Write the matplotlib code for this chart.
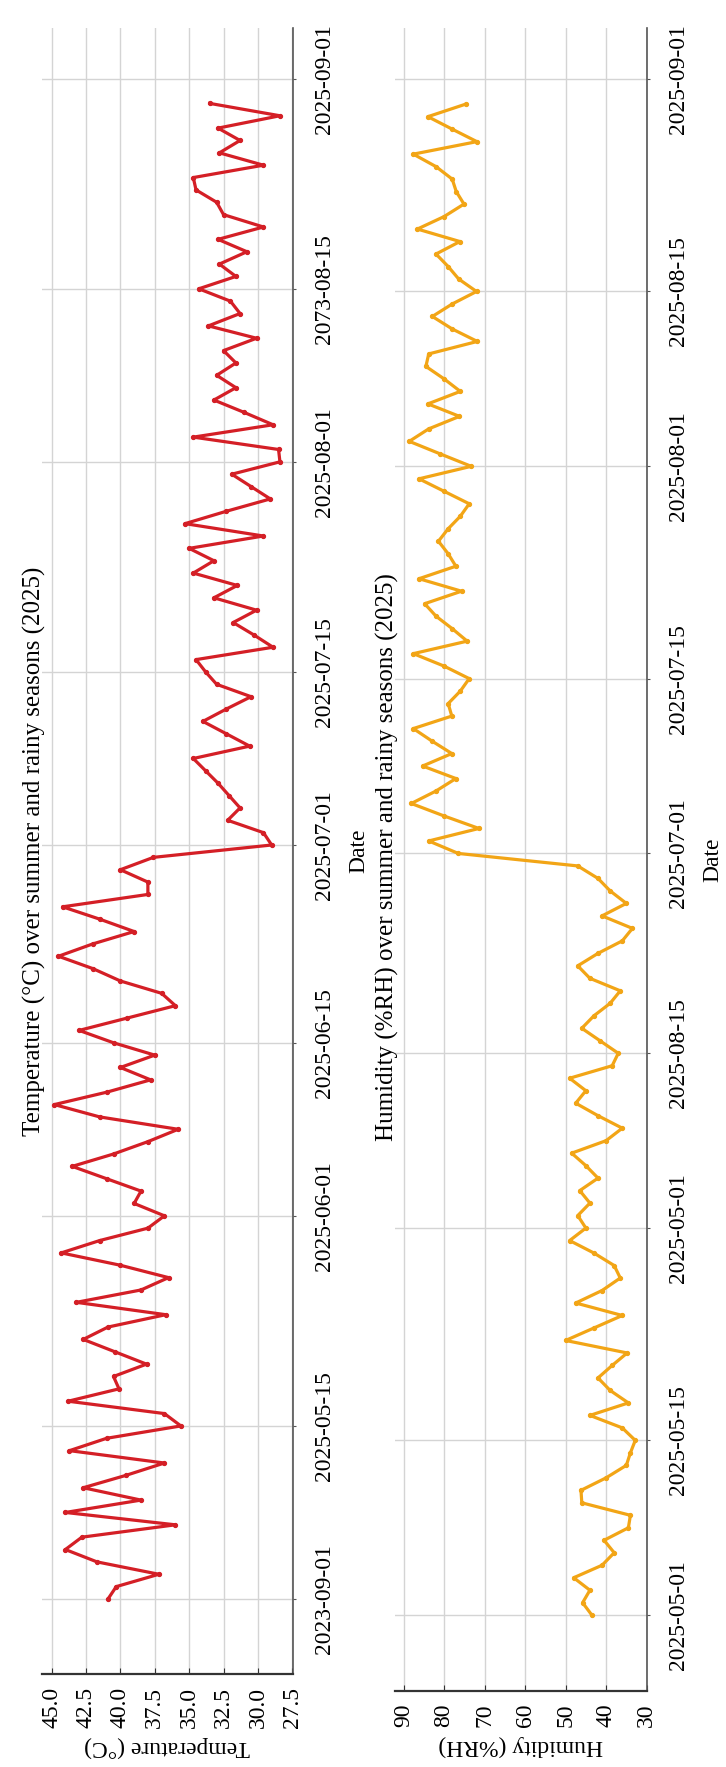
import numpy as np
import pandas as pd
import matplotlib
matplotlib.use('Agg')
import matplotlib.pyplot as plt
import matplotlib.dates as mdates

plt.rcParams['font.family'] = ['Liberation Serif', 'DejaVu Serif']

# daily readings, 2025-05-01 .. 2025-08-30
temp_may = [40.9, 40.3, 37.2, 41.7, 44.0, 42.8, 36.0, 44.0, 38.5, 42.7, 39.6, 36.8, 43.7, 41.0, 35.6, 36.8,
            43.8, 40.1, 40.5, 38.1, 40.4, 42.7, 40.9, 36.7, 43.2, 38.5, 36.5, 40.0, 44.3, 41.5, 38.0]
temp_jun = [36.8, 39.0, 38.5, 41.0, 43.5, 40.5, 38.0, 35.8, 41.5, 44.8, 41.0, 37.8, 40.0, 37.5, 40.5,
            43.0, 39.5, 36.0, 37.0, 40.0, 42.0, 44.5, 42.0, 39.0, 41.5, 44.2, 38.0, 38.0, 40.0, 37.6]
temp_jul = [29.0, 29.6, 32.2, 31.3, 32.1, 32.9, 33.8, 34.7, 30.6, 32.3, 34.0, 32.3, 30.5, 33.0, 33.8, 34.5,
            28.9, 30.3, 31.8, 30.1, 33.2, 31.5, 34.7, 33.2, 35.0, 29.6, 35.3, 32.3, 29.1, 30.5, 31.9]
temp_aug = [28.4, 28.5, 34.7, 28.9, 31.0, 33.2, 31.6, 33.0, 31.6, 32.5, 30.1, 33.6, 31.3, 32.0, 34.3,
            31.6, 32.8, 30.8, 32.9, 29.6, 32.5, 33.0, 34.5, 34.7, 29.6, 32.8, 31.3, 32.9, 28.4, 33.5]

hum_may = [43.5, 45.8, 44.0, 48.0, 41.0, 38.0, 40.5, 34.5, 34.0, 46.0, 46.2, 40.0, 35.0, 34.0, 32.8, 36.0,
           44.0, 34.5, 39.0, 42.0, 38.5, 34.8, 50.0, 43.0, 36.0, 47.5, 41.0, 36.5, 38.0, 43.0, 49.0]
hum_jun = [45.0, 47.0, 44.0, 46.5, 42.0, 45.0, 48.5, 40.0, 36.0, 42.0, 47.5, 45.0, 49.0, 38.5, 37.0,
           41.5, 46.0, 43.0, 39.0, 36.5, 44.0, 47.0, 42.0, 36.0, 33.5, 41.0, 35.0, 39.0, 42.0, 47.0]
hum_jul = [76.5, 83.8, 71.4, 80.0, 88.1, 82.0, 77.1, 85.3, 78.1, 83.0, 87.6, 78.1, 79.0, 76.0, 73.8, 80.0,
           87.6, 74.3, 78.0, 82.0, 84.8, 75.7, 86.2, 77.1, 79.0, 81.4, 79.0, 76.0, 73.8, 80.0, 86.2]
hum_aug = [73.3, 81.0, 88.6, 83.8, 76.2, 84.0, 76.0, 80.0, 84.5, 83.8, 71.8, 78.0, 82.9, 78.0, 72.0,
           76.4, 79.0, 82.0, 76.1, 86.6, 80.0, 75.1, 77.0, 78.0, 82.0, 87.6, 71.9, 78.0, 84.0, 74.7]

dates = pd.date_range('2025-05-01', '2025-08-30', freq='D')
temps = np.array(temp_may + temp_jun + temp_jul + temp_aug)
hums = np.array(hum_may + hum_jun + hum_jul + hum_aug)

tick_dates = ['2025-05-01', '2025-05-15', '2025-06-01', '2025-06-15', '2025-07-01',
              '2025-07-15', '2025-08-01', '2025-08-15', '2025-09-01']
temp_date_labels = ['2023-09-01', '2025-05-15', '2025-06-01', '2025-06-15', '2025-07-01',
                    '2025-07-15', '2025-08-01', '2073-08-15', '2025-09-01']
hum_date_labels = ['2025-05-01', '2025-05-15', '2025-05-01', '2025-08-15', '2025-07-01',
                   '2025-07-15', '2025-08-01', '2025-08-15', '2025-09-01']
temp_ticks = [45.0, 42.5, 40.0, 37.5, 35.0, 32.5, 30.0, 27.5]
hum_ticks = [90, 80, 70, 60, 50, 40, 30]

W, H = 726, 1767
fig = plt.figure(figsize=(W / 100, H / 100), dpi=100)


def box(l, r, t, b):
    return [l / W, 1 - b / H, (r - l) / W, (b - t) / H]


ax1 = fig.add_axes(box(41.7, 293, 28, 1674))
ax2 = fig.add_axes(box(394.7, 647, 28, 1691))

d0 = mdates.date2num(pd.Timestamp('2025-05-01'))
tick_pos = mdates.date2num(pd.to_datetime(tick_dates))


def style(ax, vals, color, vticks, vlabels, vlim, vlabel, dlabels):
    ax.plot(vals, mdates.date2num(dates), color=color, lw=2.3, marker='o', ms=2.8, zorder=3)
    ax.set_xlim(*vlim)
    ax.set_ylim(d0 - 6.07, d0 + 127.1)
    ax.set_xticks(vticks)
    ax.set_xticklabels(vlabels, rotation=90, fontsize=17)
    ax.set_yticks(tick_pos)
    ax.set_yticklabels(dlabels, rotation=90, fontsize=17, va='center')
    ax.yaxis.tick_right()
    ax.yaxis.set_label_position('right')
    ax.set_ylabel('Date', fontsize=17, rotation=90, labelpad=10)
    ax.set_xlabel(vlabel, fontsize=17, rotation=180, labelpad=6)
    ax.tick_params(axis='x', direction='in', length=4, pad=9, color='#333333')
    ax.tick_params(axis='y', length=2, pad=13, color='#555555')
    ax.grid(True, color='#d4d4d4', lw=1)
    ax.set_axisbelow(True)
    for s in ['left', 'top']:
        ax.spines[s].set_visible(False)
    ax.spines['bottom'].set_color('#333333')
    ax.spines['bottom'].set_linewidth(1.6)
    ax.spines['right'].set_color('#555555')
    ax.spines['right'].set_linewidth(1.2)


style(ax1, temps, '#d41f26', temp_ticks, ['%.1f' % t for t in temp_ticks], (45.72, 27.45),
      'Temperature (°C)', temp_date_labels)
style(ax2, hums, '#f2a516', hum_ticks, [str(h) for h in hum_ticks], (92.2, 29.9),
      'Humidity (%RH)', hum_date_labels)

fig.text(34 / W, 1 - 851 / H, 'Temperature (°C) over summer and rainy seasons (2025)',
         rotation=90, ha='center', va='center', fontsize=18)
fig.text(387 / W, 1 - 857 / H, 'Humidity (%RH) over summer and rainy seasons (2025)',
         rotation=90, ha='center', va='center', fontsize=18)

fig.savefig('out.png', dpi=100)
